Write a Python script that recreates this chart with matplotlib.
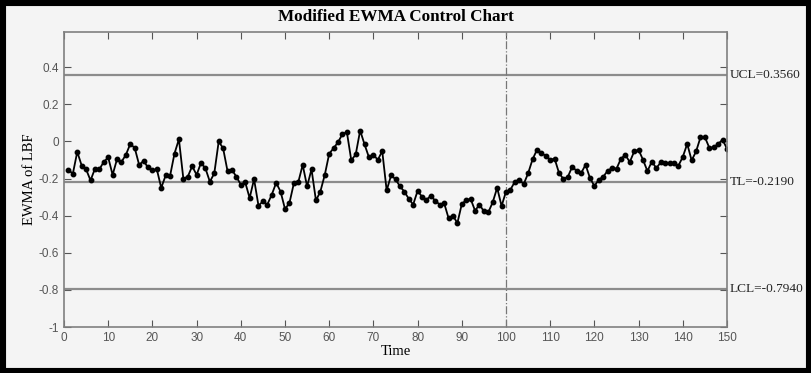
import numpy as np
import matplotlib
matplotlib.use("Agg")
from matplotlib import pyplot as plt

# EWMA values, t = 1..150
ewma = [
    -0.153, -0.174, -0.056, -0.130, -0.150, -0.210, -0.147, -0.150, -0.110, -0.086,
    -0.180, -0.095, -0.110, -0.072, -0.013, -0.035, -0.126, -0.105, -0.140, -0.155,
    -0.150, -0.250, -0.183, -0.185, -0.065, 0.012, -0.200, -0.190, -0.133, -0.180,
    -0.115, -0.145, -0.217, -0.172, 0.000, -0.037, -0.160, -0.153, -0.190, -0.233,
    -0.220, -0.305, -0.203, -0.346, -0.323, -0.340, -0.287, -0.223, -0.270, -0.364,
    -0.332, -0.226, -0.220, -0.126, -0.242, -0.150, -0.318, -0.270, -0.180, -0.066,
    -0.036, -0.004, 0.040, 0.050, -0.102, -0.070, 0.059, -0.016, -0.086, -0.072,
    -0.099, -0.052, -0.264, -0.183, -0.203, -0.242, -0.270, -0.309, -0.340, -0.266,
    -0.298, -0.314, -0.293, -0.320, -0.340, -0.332, -0.413, -0.400, -0.440, -0.337,
    -0.316, -0.310, -0.373, -0.340, -0.377, -0.382, -0.327, -0.250, -0.348, -0.270,
    -0.260, -0.217, -0.206, -0.230, -0.172, -0.097, -0.045, -0.063, -0.077, -0.099,
    -0.093, -0.170, -0.203, -0.190, -0.135, -0.160, -0.170, -0.126, -0.197, -0.240,
    -0.206, -0.190, -0.158, -0.144, -0.147, -0.093, -0.072, -0.111, -0.054, -0.045,
    -0.099, -0.160, -0.108, -0.144, -0.113, -0.117, -0.117, -0.117, -0.131, -0.083,
    -0.013, -0.102, -0.054, 0.022, 0.023, -0.034, -0.032, -0.013, 0.009, -0.039,
]
time = np.arange(1, len(ewma) + 1)

ucl = 0.356
tl = -0.219
lcl = -0.794
change_point = 100

bg = '#f4f4f4'
fig = plt.figure(figsize=(8.11, 3.73), dpi=100, facecolor=bg)
# thick black frame round the whole figure
fig.patches.append(plt.Rectangle((0, 0), 1, 1, transform=fig.transFigure,
                                 fill=False, edgecolor='black', linewidth=8))
ax = fig.add_axes([64 / 811, 1 - 327 / 373, (727 - 64) / 811, (327 - 32) / 373])
ax.set_facecolor(bg)

ax.axhline(ucl, color='#8c8c8c', linewidth=1.6)
ax.axhline(tl, color='#8c8c8c', linewidth=1.6)
ax.axhline(lcl, color='#8c8c8c', linewidth=1.6)
ax.axvline(change_point, color='#777777', linewidth=0.9, linestyle='-.')

ax.plot(time, ewma, color='black', linewidth=1.3, marker='o', markersize=3.2)

ax.set_xlim(0, 150)
ax.set_ylim(-1, 0.59)
ax.set_xticks(np.arange(0, 151, 10))
ax.set_yticks([-1, -0.8, -0.6, -0.4, -0.2, 0, 0.2, 0.4])
ax.set_yticklabels(['-1', '-0.8', '-0.6', '-0.4', '-0.2', '0', '0.2', '0.4'])
ax.tick_params(direction='in', top=True, right=True, length=5, width=0.8,
               colors='#555555', labelsize=8.5)
for lbl in ax.get_xticklabels() + ax.get_yticklabels():
    lbl.set_family('Liberation Sans')
for sp in ax.spines.values():
    sp.set_color('#808080')
    sp.set_linewidth(1.2)

serif = 'Liberation Serif'
for val, name in [(ucl, 'UCL'), (tl, 'TL'), (lcl, 'LCL')]:
    ax.text(150.6, val, '%s=%.4f' % (name, val), fontsize=9.6, family=serif,
            va='center', ha='left', color='#222222')

ax.set_title('Modified EWMA Control Chart', fontsize=12.3, fontweight='bold',
             family=serif, pad=8)
ax.set_xlabel('Time', fontsize=10.5, family=serif, labelpad=1)
ax.set_ylabel('EWMA of LBF', fontsize=10.5, family=serif, labelpad=2)

plt.savefig('out.png', dpi=100, facecolor=bg)
